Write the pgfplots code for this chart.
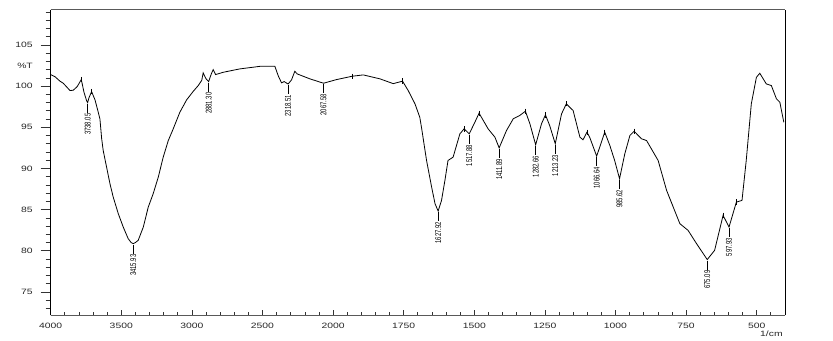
\documentclass[border=0pt]{standalone}
\usepackage{fontspec}
\setmainfont{Liberation Sans}[FakeStretch=1.34]
\newfontfamily\peakfont{Liberation Sans}[FakeStretch=0.7]
\usepackage{pgfplots}
\usepackage{pgfplotstable}
\pgfplotsset{compat=1.18}

\pgfdeclareplotmark{peak}{%
  \pgfpathmoveto{\pgfpoint{0pt}{-0.9pt}}%
  \pgfpathlineto{\pgfpoint{0pt}{-7.5pt}}%
  \pgfusepathqstroke}

\pgfplotstableread{
wn T
4000 101.4
3970 101.15
3934 100.6
3911 100.35
3863 99.46
3840 99.5
3812 99.94
3783 100.8
3764 99.25
3745 98.2
3738.05 98.0
3729 98.57
3710 99.33
3686 98.33
3663 96.83
3651 96.0
3639 93.64
3628 92.18
3604 90.16
3580 88.14
3557 86.52
3521 84.5
3486 82.88
3451 81.47
3430 81.0
3415.93 80.87
3400 81.0
3380 81.27
3344 82.88
3309 85.3
3274 86.93
3238 88.94
3203 91.37
3167 93.39
3132 94.81
3085 96.83
3037 98.33
2990 99.37
2955 100.06
2930 100.7
2920 101.6
2900 100.9
2881.30 100.55
2862 101.5
2849 102.0
2832 101.4
2778 101.68
2660 102.09
2518 102.4
2412 102.4
2389 101.28
2365 100.39
2346 100.55
2318.51 100.25
2294 100.76
2271 101.8
2254 101.48
2164 100.88
2067.58 100.35
1988 100.79
1932 101.2
1893 101.36
1834 100.88
1787 100.3
1754 100.6
1734 99.46
1710 97.85
1693 96.22
1687 95.0
1669 90.97
1651 87.73
1639 85.72
1627.92 84.82
1616 86.12
1604 88.54
1593 90.97
1575 91.37
1551 94.2
1536 94.81
1517.88 94.2
1498 95.61
1483 96.71
1451 94.81
1427 93.8
1411.89 92.5
1386 94.6
1362 96.03
1339 96.43
1319 96.95
1303 95.42
1282.66 92.87
1262 95.42
1248 96.51
1233 95.21
1213.23 93.0
1191 96.63
1174 97.85
1150 97.03
1126 93.8
1115 93.48
1101 94.4
1091 93.76
1066.64 91.49
1038 94.4
1020 92.79
1003 90.97
985.62 88.75
967 91.78
949 94.0
934 94.52
908 93.6
890 93.39
849 90.97
819 87.33
772 83.29
743 82.48
713 80.87
675.09 78.93
649 80.05
619 84.3
597.93 82.88
572 85.91
552 86.12
537 90.97
519 97.85
501 101.07
489 101.56
466 100.27
448 100.06
430 98.45
418 98.04
404 95.61
}\spectrum

\pgfplotstableread{
wn T label
3738.05 98.0 3738.05
3415.93 80.87 3415.93
2881.30 100.55 2881.30
2318.51 100.25 2318.51
2067.58 100.35 2067.58
1627.92 84.82 1627.92
1517.88 94.2 1517.88
1411.89 92.5 1411.89
1282.66 92.87 1282.66
1213.23 93.0 1213.23
1066.64 91.49 1066.64
985.62 88.75 985.62
675.09 78.93 675.09
597.93 82.88 597.93
}\peaks

\pgfplotstableread{
wn T
3783 100.8
3710 99.33
1932 101.2
1754 100.6
1536 94.81
1483 96.71
1319 96.95
1248 96.51
1174 97.85
1101 94.4
1038 94.4
934 94.52
619 84.3
572 85.91
}\maxima

\pgfplotsset{
  irbase/.style={
    scale only axis,
    width=550.7pt, height=229.1pt,
    at={(38.0pt,18.75pt)}, anchor=south west,
    x coord trafo/.code={\pgfmathparse{ifthenelse(##1>=2000,(4000-##1)/500,4+(2000-##1)/250)}},
    xmin=4000, xmax=400,
    ymin=72.2, ymax=109.3,
    clip=false,
    separate axis lines,
    x axis line style={black!65, line width=0.6pt},
    y axis line style={black, line width=0.6pt},
    /pgf/number format/assume math mode=true,
    tick style={black!80, line width=0.5pt},
    ticklabel style={font=\fontsize{5.8}{6}\selectfont, text=black!85},
  }
}

\begin{document}
\begin{tikzpicture}
\useasboundingbox (0,0) rectangle (624.75pt,255pt);
% y ticks (outside, long)
\begin{axis}[irbase,
  xtick=\empty,
  ytick={75,80,85,90,95,100,105},
  yticklabels={75,80,85,90,95,100,105},
  minor ytick={73,74,...,109},
  ytick pos=left,
  tick align=outside,
  major tick length=7.5pt, minor tick length=3.75pt,
  yticklabel style={xshift=-2.5pt},
]
\addplot[draw=none] coordinates {(4000,100) (400,100)};
\node[anchor=east, inner sep=0pt, font=\fontsize{5.8}{6}\selectfont, text=black!85]
  at (axis cs:4000,102.5) [xshift=-13.2pt] {\%T};
\end{axis}
% data and x ticks (inside, short)
\begin{axis}[irbase,
  ytick=\empty,
  xtick={4000,3500,3000,2500,2000,1750,1500,1250,1000,750,500},
  xticklabels={4000,3500,3000,2500,2000,1750,1500,1250,1000,750,500},
  minor xtick={3900,3800,3700,3600,3400,3300,3200,3100,2900,2800,2700,2600,2400,2300,2200,2100,
    1950,1900,1850,1800,1700,1650,1600,1550,1450,1400,1350,1300,1200,1150,1100,1050,
    950,900,850,800,700,650,600,550,450,400},
  xtick pos=bottom,
  tick align=inside,
  major tick length=3.75pt, minor tick length=2.25pt,
  xticklabel style={yshift=-2.6pt},
]
\addplot[black, line width=0.6pt, mark=none] table[x=wn, y=T] {\spectrum};
\addplot[only marks, mark=|, mark size=2pt, mark options={black, line width=0.5pt}]
  table[x=wn, y=T] {\maxima};
\addplot[only marks, mark=peak, mark options={black, line width=0.55pt},
  point meta=explicit symbolic,
  nodes near coords,
  nodes near coords style={yshift=-8pt, rotate=90, anchor=east, inner sep=0pt,
    font=\peakfont\fontsize{6.3}{7}\selectfont, text=black},
] table[x=wn, y=T, meta=label] {\peaks};
\node[anchor=north east, inner sep=0pt, font=\fontsize{5.8}{6}\selectfont, text=black!85]
  at (rel axis cs:1,0) [xshift=-1.5pt, yshift=-12pt] {1/cm};
\end{axis}
\end{tikzpicture}
\end{document}
